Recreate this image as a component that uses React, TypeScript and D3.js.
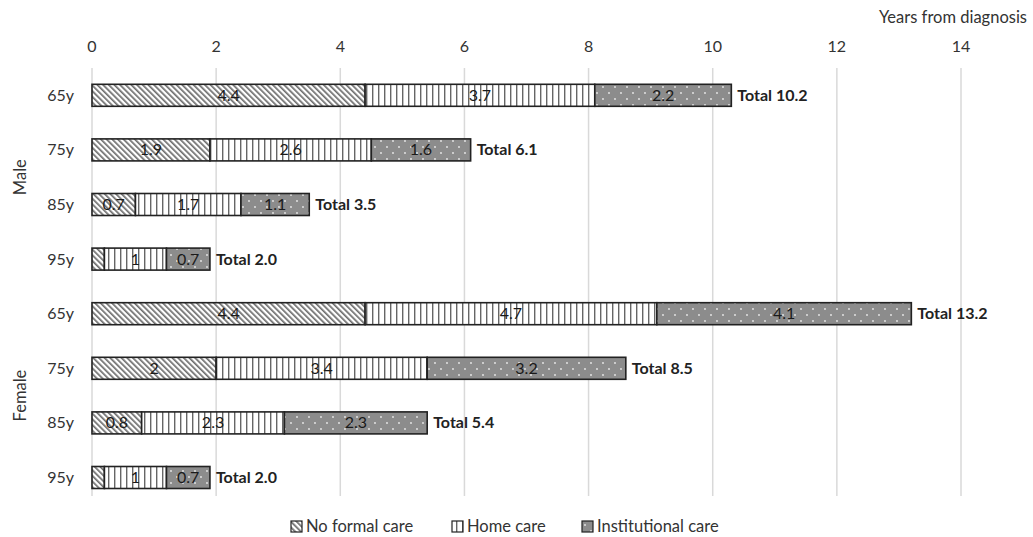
import React from "react";
import * as d3 from "d3";

const rowLabels = ["65y", "75y", "85y", "95y", "65y", "75y", "85y", "95y"];
const groups = ["Male", "Female"];
const noFormalCare = [4.4, 1.9, 0.7, 0.2, 4.4, 2, 0.8, 0.2];
const homeCare = [3.7, 2.6, 1.7, 1, 4.7, 3.4, 2.3, 1];
const institutionalCare = [2.2, 1.6, 1.1, 0.7, 4.1, 3.2, 2.3, 0.7];
const noFormalLabels = ["4.4", "1.9", "0.7", "", "4.4", "2", "0.8", ""];
const homeLabels = ["3.7", "2.6", "1.7", "1", "4.7", "3.4", "2.3", "1"];
const instLabels = ["2.2", "1.6", "1.1", "0.7", "4.1", "3.2", "2.3", "0.7"];
const totals = ["Total 10.2", "Total 6.1", "Total 3.5", "Total 2.0", "Total 13.2", "Total 8.5", "Total 5.4", "Total 2.0"];
const xTicks = [0, 2, 4, 6, 8, 10, 12, 14];
const seriesNames = ["No formal care", "Home care", "Institutional care"];

const W = 1033;
const H = 537;
const FONT = "Lato, 'Open Sans', sans-serif";

export default function App() {
  const x = d3.scaleLinear().domain([0, 14]).range([92, 961]);
  const idx = d3.range(rowLabels.length).map(String);
  const y = d3.scalePoint<string>().domain(idx).range([68, 504.8]).padding(0.5);
  const barH = 22;
  const fills = ["url(#pDiag)", "url(#pVert)", "url(#pDots)"];
  const series = [noFormalCare, homeCare, institutionalCare];
  const labels = [noFormalLabels, homeLabels, instLabels];

  const segs: { row: number; s: number; x0: number; x1: number; label: string }[] = [];
  rowLabels.forEach((_, i) => {
    let acc = 0;
    series.forEach((arr, s) => {
      segs.push({ row: i, s, x0: acc, x1: acc + arr[i], label: labels[s][i] });
      acc += arr[i];
    });
  });

  const legendX = [291, 452, 582];

  return (
    <svg width={W} height={H} style={{ position: "absolute", left: 0, top: 0, background: "#fff" }}>
      <defs>
        <pattern id="pDiag" patternUnits="userSpaceOnUse" width="4" height="4" patternTransform="rotate(-45)">
          <rect width="4" height="4" fill="#fff" />
          <rect x="0" y="0" width="1.7" height="4" fill="#6e6e6e" />
        </pattern>
        <pattern id="pVert" patternUnits="userSpaceOnUse" width="6" height="6">
          <rect width="6" height="6" fill="#fff" />
          <rect x="0" y="0" width="1.4" height="6" fill="#666" />
        </pattern>
        <pattern id="pDots" patternUnits="userSpaceOnUse" width="12" height="12">
          <rect width="12" height="12" fill="#8c8c8c" />
          <circle cx="3" cy="3" r="0.9" fill="#eaeaea" />
          <circle cx="9" cy="9" r="0.9" fill="#eaeaea" />
        </pattern>
      </defs>

      <text x={1027} y={23} textAnchor="end" fontFamily={FONT} fontSize={16.5} fill="#333">
        Years from diagnosis
      </text>

      {xTicks.map((t) => (
        <g key={t}>
          <line x1={x(t)} x2={x(t)} y1={68} y2={496} stroke="#d9d9d9" strokeWidth={1.5} />
          <text x={x(t)} y={52} textAnchor="middle" fontFamily={FONT} fontSize={16} fill="#333">
            {t}
          </text>
        </g>
      ))}

      {rowLabels.map((r, i) => (
        <text key={i} x={74} y={(y(String(i)) as number) + 5.5} textAnchor="end" fontFamily={FONT} fontSize={16} fill="#333">
          {r}
        </text>
      ))}

      {groups.map((g, gi) => {
        const cy = ((y(String(gi * 4 + 1)) as number) + (y(String(gi * 4 + 2)) as number)) / 2;
        return (
          <text key={g} transform={`translate(26,${cy}) rotate(-90)`} textAnchor="middle" fontFamily={FONT} fontSize={16.5} fill="#333">
            {g}
          </text>
        );
      })}

      {segs.map((d, k) => {
        const cy = y(String(d.row)) as number;
        return (
          <g key={k}>
            <rect x={x(d.x0)} y={cy - barH / 2} width={x(d.x1) - x(d.x0)} height={barH} fill={fills[d.s]} stroke="#222" strokeWidth={1.6} />
            {d.label && (
              <text x={(x(d.x0) + x(d.x1)) / 2} y={cy + 5.5} textAnchor="middle" fontFamily={FONT} fontSize={16} fill="#1a1a1a">
                {d.label}
              </text>
            )}
          </g>
        );
      })}

      {rowLabels.map((_, i) => {
        const end = noFormalCare[i] + homeCare[i] + institutionalCare[i];
        return (
          <text key={i} x={x(end) + 6} y={(y(String(i)) as number) + 5.5} fontFamily={FONT} fontSize={16} fontWeight="bold" fill="#222">
            {totals[i]}
          </text>
        );
      })}

      {seriesNames.map((n, s) => (
        <g key={n}>
          <rect x={legendX[s]} y={521} width={11} height={11} fill={fills[s]} stroke="#222" strokeWidth={1.2} />
          <text x={legendX[s] + 15} y={532} fontFamily={FONT} fontSize={16.5} fill="#333">
            {n}
          </text>
        </g>
      ))}
    </svg>
  );
}
